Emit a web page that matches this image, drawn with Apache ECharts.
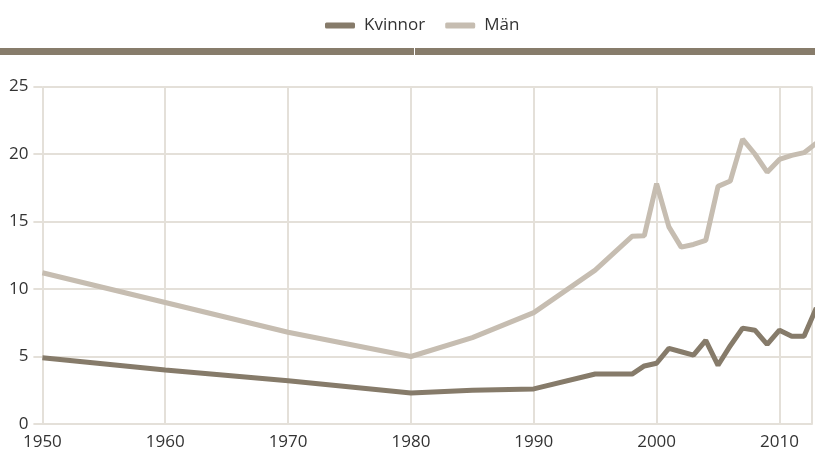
<!DOCTYPE html>
<html><head><meta charset="utf-8">
<script src="https://cdn.jsdelivr.net/npm/echarts@6/dist/echarts.min.js"></script>
<style>html,body{margin:0;padding:0;background:#fff}#c{width:815px;height:453px}</style>
</head><body><div id="c"></div>
<script>
const seriesNames = ['Kvinnor', 'Män'];
const years = [1950,1960,1970,1980,1985,1990,1995,1998,1999,2000,2001,2002,2003,2004,2005,2006,2007,2008,2009,2010,2011,2012,2013];
const kvinnor = [4.9,4.0,3.2,2.3,2.5,2.6,3.7,3.7,4.3,4.5,5.6,5.35,5.1,6.2,4.35,5.8,7.1,6.95,5.9,6.95,6.5,6.5,8.6];
const man =     [11.2,9.0,6.8,5.0,6.4,8.25,11.4,13.9,13.95,17.8,14.6,13.1,13.3,13.6,17.6,18.0,21.1,20.0,18.65,19.6,19.9,20.1,20.8];
const yTicks = {min:0, max:25, interval:5};
const xTicks = {min:1950, max:2012.65, interval:10};
const colors = ['#867b6a', '#c6bdb1'];
const font = '"Open Sans", "Noto Sans", sans-serif';

const chart = echarts.init(document.getElementById('c'), null, {renderer:'canvas'});
chart.setOption({
  animation:false,
  textStyle:{fontFamily:font},
  legend:{
    top:12, left:320, itemWidth:30, itemHeight:6, itemGap:20, icon:'roundRect',
    textStyle:{fontFamily:font, fontSize:17, color:'#333', padding:[0,0,0,4]},
    data:seriesNames
  },
  graphic:[
    {type:'rect', shape:{x:0, y:48, width:414, height:7}, style:{fill:'#877c6b'}},
    {type:'rect', shape:{x:415, y:48, width:400, height:7}, style:{fill:'#877c6b'}}
  ],
  grid:{left:42.4, right:0, top:86.5, bottom:29, containLabel:false},
  xAxis:{
    type:'value', min:xTicks.min, max:xTicks.max, interval:xTicks.interval,
    axisLine:{show:true, lineStyle:{color:'#e4e0d9', width:2}},
    axisTick:{show:false},
    axisLabel:{color:'#333', fontSize:17, fontFamily:font, margin:10,
      formatter:v=> (v%10===0 ? String(v) : '')},
    splitLine:{show:true, lineStyle:{color:'#e4e0d9', width:2}}
  },
  yAxis:{
    type:'value', min:yTicks.min, max:yTicks.max, interval:yTicks.interval,
    axisLine:{show:false},
    axisTick:{show:true, length:9, lineStyle:{color:'#e4e0d9', width:2}},
    axisLabel:{color:'#333', fontSize:17, fontFamily:font, margin:14},
    splitLine:{show:true, lineStyle:{color:'#e4e0d9', width:2}}
  },
  series:[
    {name:seriesNames[0], type:'line', data:years.map((y,i)=>[y,kvinnor[i]]),
     showSymbol:false, lineStyle:{width:5, color:colors[0]}, itemStyle:{color:colors[0]}, z:3},
    {name:seriesNames[1], type:'line', data:years.map((y,i)=>[y,man[i]]),
     showSymbol:false, lineStyle:{width:5, color:colors[1]}, itemStyle:{color:colors[1]}, z:2}
  ]
});
</script></body></html>
